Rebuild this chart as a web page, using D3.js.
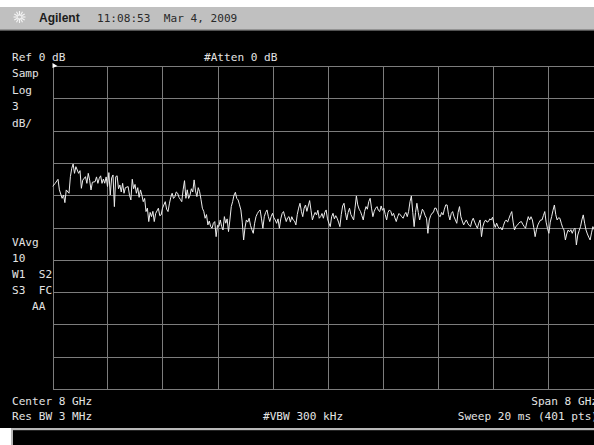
<!DOCTYPE html>
<html>
<head>
<meta charset="utf-8">
<script src="https://cdn.jsdelivr.net/npm/d3@7"></script>
<style>
  html, body { margin: 0; padding: 0; background: #ffffff; overflow: hidden; }
  svg { display: block; }
</style>
</head>
<body>
<svg id="screen" width="594" height="445"></svg>
<script>
// Spectrum analyzer setup
const startGHz = 4, stopGHz = 12;          // Center 8 GHz, Span 8 GHz
const sweepPoints = 401;
const refLevelDb = 0, dbPerDiv = 3, yDivisions = 10, xDivisions = 10;

// Trace samples: sweep point index and measured level (dB)
const tracePoint = [
  0,2,4,5,7,8,9,10,12,13,14,15,16,17,18,19,20,21,22,24,25,26,27,28,29,31,32,33,34,35,36,37,38,39,40,
  41,42,43,44,45,46,47,48,49,50,51,52,53,55,56,57,58,59,60,61,62,63,64,65,66,67,68,69,70,71,72,73,74,75,
  77,78,79,80,82,83,84,85,86,87,88,89,90,91,92,93,94,95,96,97,98,99,100,101,102,103,104,105,106,107,108,
  109,110,111,112,113,114,115,116,117,118,119,120,121,122,123,124,125,126,127,128,129,130,131,132,133,
  134,135,136,137,138,139,140,141,142,143,144,145,146,147,148,149,150,151,152,153,154,155,156,157,158,
  159,160,161,162,163,164,165,166,167,168,169,170,171,172,173,174,175,176,177,178,179,180,181,182,183,
  184,185,186,187,188,189,190,191,192,193,194,195,196,197,198,199,200,201,202,203,204,205,206,207,208,
  209,210,211,212,213,214,215,216,217,219,220,221,222,223,224,225,226,227,228,229,230,231,232,233,234,
  235,236,237,238,239,240,241,242,243,244,245,246,247,248,249,250,251,252,253,254,255,256,257,258,259,
  260,261,262,263,264,265,266,267,268,269,270,271,272,273,274,275,276,277,278,279,280,281,282,283,284,
  285,286,287,288,289,290,291,292,293,294,295,296,297,298,299,300,301,302,303,304,305,306,307,308,309,
  310,311,312,313,314,315,316,317,318,319,320,321,322,323,324,325,326,327,328,329,330,331,332,333,334,
  335,336,337,338,339,340,341,342,343,344,345,346,347,348,349,350,351,352,353,354,355,356,357,358,359,
  360,361,362,363,364,365,366,367,368,369,370,371,372,373,374,375,376,377,378,379,380,381,382,383,384,
  385,386,387,388,389,390,391,392,393,394,395
];
const traceDb = [
  -11.20,-10.89,-10.52,-11.5,-12.29,-11.98,-12.69,-11.51,-11.82,-10.28,-9.5,-9.10,-9.97,-9.35,-9.66,-9.97,-9.72,-11.36,-10.6,-10.28,-10.9,-9.97,-10.6,-11.51,-10.8,-10.74,-10.3,-10.9,-10.43,-10.2,-10.9,-10.5,-10.89,-10.3,-11.2,
  -9.9,-11.98,-10.4,-10.12,-13.06,-10.28,-10.2,-11.4,-11.05,-11.7,-10.9,-11.82,-11.3,-11.2,-12.0,-12.44,-10.52,-11.4,-11.0,-11.82,-11.3,-12.2,-11.51,-12.0,-12.60,-12.3,-13.52,-13.2,-14.45,-13.6,-13.99,-13.5,-14.45,-13.7,
  -13.21,-13.9,-13.83,-13.2,-12.60,-13.3,-13.52,-12.8,-12.2,-11.82,-12.3,-12.13,-11.7,-11.82,-12.2,-12.4,-12.60,-11.5,-10.65,-12.29,-11.5,-12.3,-11.98,-11.4,-11.7,-10.58,-11.6,-12.13,-11.3,-11.67,-12.4,
  -13.21,-13.5,-14.14,-13.8,-14.76,-14.4,-14.9,-15.07,-14.6,-14.45,-15.85,-14.8,-14.9,-14.30,-14.9,-15.23,-13.99,-14.6,-14.2,-15.38,-14.3,-13.06,-12.6,-12.0,-11.73,
  -12.3,-12.44,-12.9,-13.37,-14.5,-16.16,-15.0,-14.30,-14.5,-14.14,-14.8,-15.2,-15.54,-14.6,-13.99,-13.7,-13.5,-13.37,-14.2,-15.07,-14.0,-13.6,-13.37,-14.0,-14.45,
  -14.0,-13.68,-14.1,-14.3,-14.61,-14.2,-15.07,-14.2,-13.7,-13.52,-14.0,-14.45,-14.1,-13.99,-14.5,-14.0,-14.30,-14.4,-14.76,-13.8,-13.2,-12.75,-13.5,-13.99,-13.2,
  -12.91,-13.5,-13.0,-12.5,-13.4,-14.30,-13.9,-13.6,-13.83,-13.4,-14.14,-13.99,-13.7,-14.14,-13.6,-13.37,-14.2,-14.6,-14.92,-14.0,-13.68,-14.2,-13.9,-14.14,-14.5,
  -14.92,-13.8,-13.0,-12.75,-13.6,-14.30,-13.6,-13.21,-13.8,-14.30,-13.2,-12.07,-12.9,-13.3,-13.52,-13.9,-14.30,-13.5,-13.06,-13.3,-12.6,-12.29,-13.2,-13.99,-13.5,
  -13.2,-13.06,-13.4,-13.52,-13.0,-13.4,-13.21,-13.8,-14.30,-13.6,-13.37,-13.5,-13.9,-13.68,-14.1,-14.45,-14.0,-13.7,-13.83,-14.0,-14.14,-13.8,-13.6,-13.99,-13.5,
  -12.6,-12.07,-13.6,-14.92,-13.6,-12.75,-13.6,-14.30,-13.8,-13.3,-13.52,-13.9,-14.14,-15.54,-14.3,-13.9,-13.68,-13.6,-13.2,-13.21,-13.6,-13.9,-13.99,-13.6,-13.83,
  -13.3,-12.9,-12.91,-13.8,-14.30,-13.7,-13.52,-14.0,-14.3,-14.61,-13.6,-13.06,-14.0,-14.4,-14.76,-14.5,-14.30,-14.6,-14.8,-14.92,-14.4,-14.14,-14.5,-14.8,-15.07,
  -14.6,-14.30,-15.85,-14.9,-14.5,-14.30,-14.5,-14.45,-14.2,-14.3,-14.05,-14.6,-14.99,-14.6,-14.92,-15.1,-15.0,-15.23,-14.8,-14.45,-14.3,-14.5,-14.14,-13.8,-13.52,
  -14.5,-15.23,-14.9,-14.8,-14.61,-14.5,-14.45,-14.7,-14.9,-15.07,-14.5,-13.99,-14.3,-14.0,-14.30,-15.0,-15.85,-15.2,-14.76,-14.5,-14.3,-14.30,-13.9,-13.52,-14.5,
  -15.1,-15.54,-14.5,-13.99,-13.4,-12.91,-13.8,-14.30,-14.1,-14.14,-14.6,-15.0,-15.23,-16.16,-15.6,-15.23,-15.4,-15.2,-15.54,-15.2,-15.07,-16.62,-15.7,-15.3,-14.92,
  -14.3,-13.83,-14.6,-15.23,-15.6,-15.9,-16.16,-15.5,-14.92,-15.2,-15.0
];

// Annotation texts
const headerBrand = "Agilent";
const headerStamp = "11:08:53  Mar 4, 2009";
const leftNotesTop = ["Samp", "Log", "3", "dB/"];
const leftNotesBottom = ["VAvg", "10", "W1  S2", "S3  FC", "   AA"];
const refLabel = "Ref 0 dB";
const attenLabel = "#Atten 0 dB";
const footerRow1 = { left: "Center 8 GHz", right: "Span 8 GHz" };
const footerRow2 = { left: "Res BW 3 MHz", mid: "#VBW 300 kHz", right: "Sweep 20 ms (401 pts)" };

const svg = d3.select("#screen");
const W = 594, H = 445;
const mono = "'DejaVu Sans Mono', 'Liberation Mono', monospace";
const textCol = "#e4e4e4";

// Screen regions
svg.append("rect").attr("x", 0).attr("y", 0).attr("width", W).attr("height", H).attr("fill", "#ffffff");
svg.append("rect").attr("x", 0).attr("y", 7).attr("width", W).attr("height", 22.5).attr("fill", "#c0c0c0");
svg.append("rect").attr("x", 0).attr("y", 29.5).attr("width", W).attr("height", 1).attr("fill", "#4a4a4a");
svg.append("rect").attr("x", 0).attr("y", 30.5).attr("width", W).attr("height", H - 30.5).attr("fill", "#000000");

// Bottom message box
svg.append("rect").attr("x", 0).attr("y", 428).attr("width", 12).attr("height", H - 428).attr("fill", "#ffffff");
svg.append("rect").attr("x", 11).attr("y", 428).attr("width", W - 11).attr("height", 2.2).attr("fill", "#b8b8b8");
svg.append("rect").attr("x", 11).attr("y", 428).attr("width", 2).attr("height", H - 428).attr("fill", "#b8b8b8");

// Header: logo, brand, timestamp
const logo = svg.append("g").attr("transform", "translate(19.5,17)");
d3.range(12).forEach(i => {
  const a = i * Math.PI / 6;
  logo.append("line")
    .attr("x1", Math.cos(a) * 1.5).attr("y1", Math.sin(a) * 1.5)
    .attr("x2", Math.cos(a) * 6).attr("y2", Math.sin(a) * 6)
    .attr("stroke", "#f4f4f4").attr("stroke-width", 1.1);
});
svg.append("text").attr("x", 39).attr("y", 21.5)
  .attr("font-family", "'Liberation Sans', Arial, sans-serif").attr("font-weight", "bold")
  .attr("font-size", 12).attr("fill", "#1c1c1c").text(headerBrand);
svg.append("text").attr("x", 97).attr("y", 21.5).attr("xml:space", "preserve")
  .attr("font-family", mono).attr("font-size", 11.1).attr("fill", "#2a2a2a").text(headerStamp);

// Graticule
const gx0 = 52.5, gx1 = 602.5, gy0 = 66, gy1 = 389;
const x = d3.scaleLinear().domain([startGHz, stopGHz]).range([gx0, gx1]);
const y = d3.scaleLinear().domain([refLevelDb - dbPerDiv * yDivisions, refLevelDb]).range([gy1, gy0]);
const pointToGHz = d3.scaleLinear().domain([0, sweepPoints - 1]).range([startGHz, stopGHz]);

const xTicks = d3.range(xDivisions + 1).map(i => startGHz + i * (stopGHz - startGHz) / xDivisions);
const yTicks = d3.range(yDivisions + 1).map(i => refLevelDb - i * dbPerDiv);

const grid = svg.append("g").attr("stroke", "#7c7c7c").attr("stroke-width", 1).attr("shape-rendering", "crispEdges");
grid.selectAll("line.v").data(xTicks).join("line").attr("class", "v")
  .attr("x1", d => Math.round(x(d)) + 0.5).attr("x2", d => Math.round(x(d)) + 0.5)
  .attr("y1", gy0).attr("y2", gy1);
grid.selectAll("line.h").data(yTicks).join("line").attr("class", "h")
  .attr("x1", gx0).attr("x2", gx1)
  .attr("y1", d => Math.round(y(d)) + 0.5).attr("y2", d => Math.round(y(d)) + 0.5);

// Reference level marker
svg.append("path")
  .attr("d", `M${gx0},${gy0 - 3} L${gx0 + 5},${gy0} L${gx0},${gy0 + 2} Z`)
  .attr("fill", "#ffffff");

// Trace
const trace = tracePoint.map((p, i) => ({ f: pointToGHz(p), db: traceDb[i] }));
svg.append("clipPath").attr("id", "gridClip").append("rect")
  .attr("x", gx0).attr("y", gy0).attr("width", gx1 - gx0).attr("height", gy1 - gy0);
svg.append("path")
  .datum(trace)
  .attr("clip-path", "url(#gridClip)")
  .attr("fill", "none").attr("stroke", "#ececec").attr("stroke-width", 1)
  .attr("d", d3.line().x(d => x(d.f)).y(d => y(d.db)));

// Screen annotations
function label(txt, px, py, anchor) {
  svg.append("text").attr("x", px).attr("y", py).attr("xml:space", "preserve")
    .attr("font-family", mono).attr("font-size", 11.1).attr("fill", textCol)
    .attr("text-anchor", anchor || "start").text(txt);
}
label(refLabel, 12, 61);
label(attenLabel, 204, 61);
leftNotesTop.forEach((t, i) => label(t, 12, 77 + i * 16.5));
leftNotesBottom.forEach((t, i) => label(t, 12, 246 + i * 16));
label(footerRow1.left, 12, 405);
label(footerRow1.right, 598, 405, "end");
label(footerRow2.left, 12, 420);
label(footerRow2.mid, 263, 420);
label(footerRow2.right, 598, 420, "end");
</script>
</body>
</html>
